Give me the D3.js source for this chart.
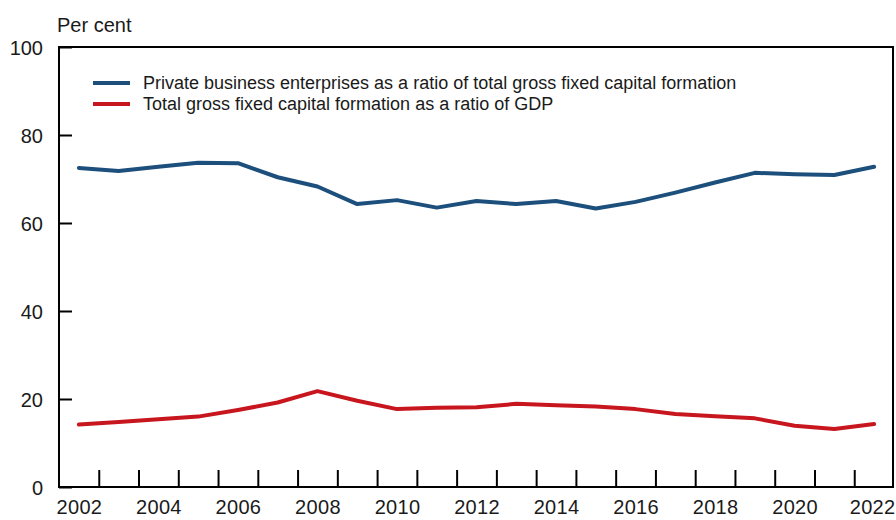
<!DOCTYPE html>
<html>
<head>
<meta charset="utf-8">
<script src="https://cdn.jsdelivr.net/npm/d3@7/dist/d3.min.js"></script>
<style>
  body { margin: 0; background: #fff; }
  svg text { font-family: "Liberation Sans", Arial, sans-serif; fill: #1a1a1a; }
  .axis path, .axis line { stroke: #000; stroke-width: 2; }
  .axis .domain { display: none; }
</style>
</head>
<body>
<script>
const years = d3.range(2002, 2023);
const privateShare = [72.5, 71.8, 72.8, 73.7, 73.6, 70.4, 68.3, 64.3, 65.2, 63.5, 65.0,
  64.3, 65.0, 63.3, 64.8, 66.9, 69.2, 71.4, 71.1, 70.9, 72.8];
const gfcfToGdp = [14.2, 14.8, 15.4, 16.0, 17.5, 19.2, 21.8, 19.6, 17.7, 18.0, 18.1,
  18.9, 18.6, 18.3, 17.7, 16.6, 16.1, 15.6, 13.9, 13.2, 14.3];
const yTicks = [0, 20, 40, 60, 80, 100];
const xLabels = [2002, 2004, 2006, 2008, 2010, 2012, 2014, 2016, 2018, 2020, 2022];
const seriesNames = [
  'Private business enterprises as a ratio of total gross fixed capital formation',
  'Total gross fixed capital formation as a ratio of GDP'
];
const seriesColours = ['#1c4f7b', '#c8161f'];

const width = 896, height = 520;
const margin = {top: 47, right: 2, bottom: 33, left: 59};
const plotWidth = width - margin.left - margin.right;
const plotHeight = height - margin.top - margin.bottom;

const svg = d3.select('body').append('svg')
  .attr('width', width)
  .attr('height', height);

const xScale = d3.scaleLinear()
  .domain([2001.5, 2022.5])
  .range([0, plotWidth]);

const yScale = d3.scaleLinear()
  .domain([0, 100])
  .range([plotHeight, 0]);

const container = svg.append('g')
  .attr('transform', `translate(${margin.left},${margin.top})`);

// unit label
svg.append('text')
  .attr('x', 57)
  .attr('y', 32)
  .attr('font-size', 20)
  .text('Per cent');

// y axis
container.append('g')
  .attr('class', 'axis')
  .call(d3.axisLeft(yScale).tickValues(yTicks).tickSize(-13).tickPadding(16))
  .call(g => g.selectAll('text').attr('font-size', 20).attr('dy', '0.36em'));

// x axis: ticks on year boundaries, labels centred on years
container.append('g')
  .attr('class', 'axis')
  .attr('transform', `translate(0,${plotHeight})`)
  .call(d3.axisBottom(xScale)
    .tickValues(years.slice(0, -1).map(y => y + 0.5))
    .tickSize(-17)
    .tickFormat(''));

container.append('g')
  .attr('class', 'axis')
  .attr('transform', `translate(0,${plotHeight})`)
  .call(d3.axisBottom(xScale).tickValues(xLabels).tickSize(0).tickPadding(13).tickFormat(d3.format('d')))
  .call(g => g.selectAll('text').attr('font-size', 20).attr('letter-spacing', 0.3))
  .call(g => g.selectAll('.tick:last-of-type text').attr('dx', -2));

// frame
container.append('rect')
  .attr('x', 0)
  .attr('y', 0)
  .attr('width', plotWidth - 1)
  .attr('height', plotHeight)
  .attr('fill', 'none')
  .attr('stroke', '#000')
  .attr('stroke-width', 2);

// lines
const line = d3.line()
  .x((d, i) => xScale(years[i]))
  .y(d => yScale(d));

[privateShare, gfcfToGdp].forEach((values, i) => {
  container.append('path')
    .attr('d', line(values))
    .attr('fill', 'none')
    .attr('stroke', seriesColours[i])
    .attr('stroke-width', 4)
    .attr('stroke-linejoin', 'round')
    .attr('stroke-linecap', 'round');
});

// legend
const key = svg.append('g')
  .attr('transform', 'translate(93,83)')
  .selectAll('g')
  .data(seriesNames)
  .enter().append('g')
  .attr('transform', (d, i) => `translate(0,${i * 21})`);

key.append('line')
  .attr('x1', 0)
  .attr('x2', 37)
  .attr('stroke', (d, i) => seriesColours[i])
  .attr('stroke-width', 4);

key.append('text')
  .attr('x', 50)
  .attr('dy', '0.35em')
  .attr('font-size', 18)
  .text(d => d);
</script>
</body>
</html>
